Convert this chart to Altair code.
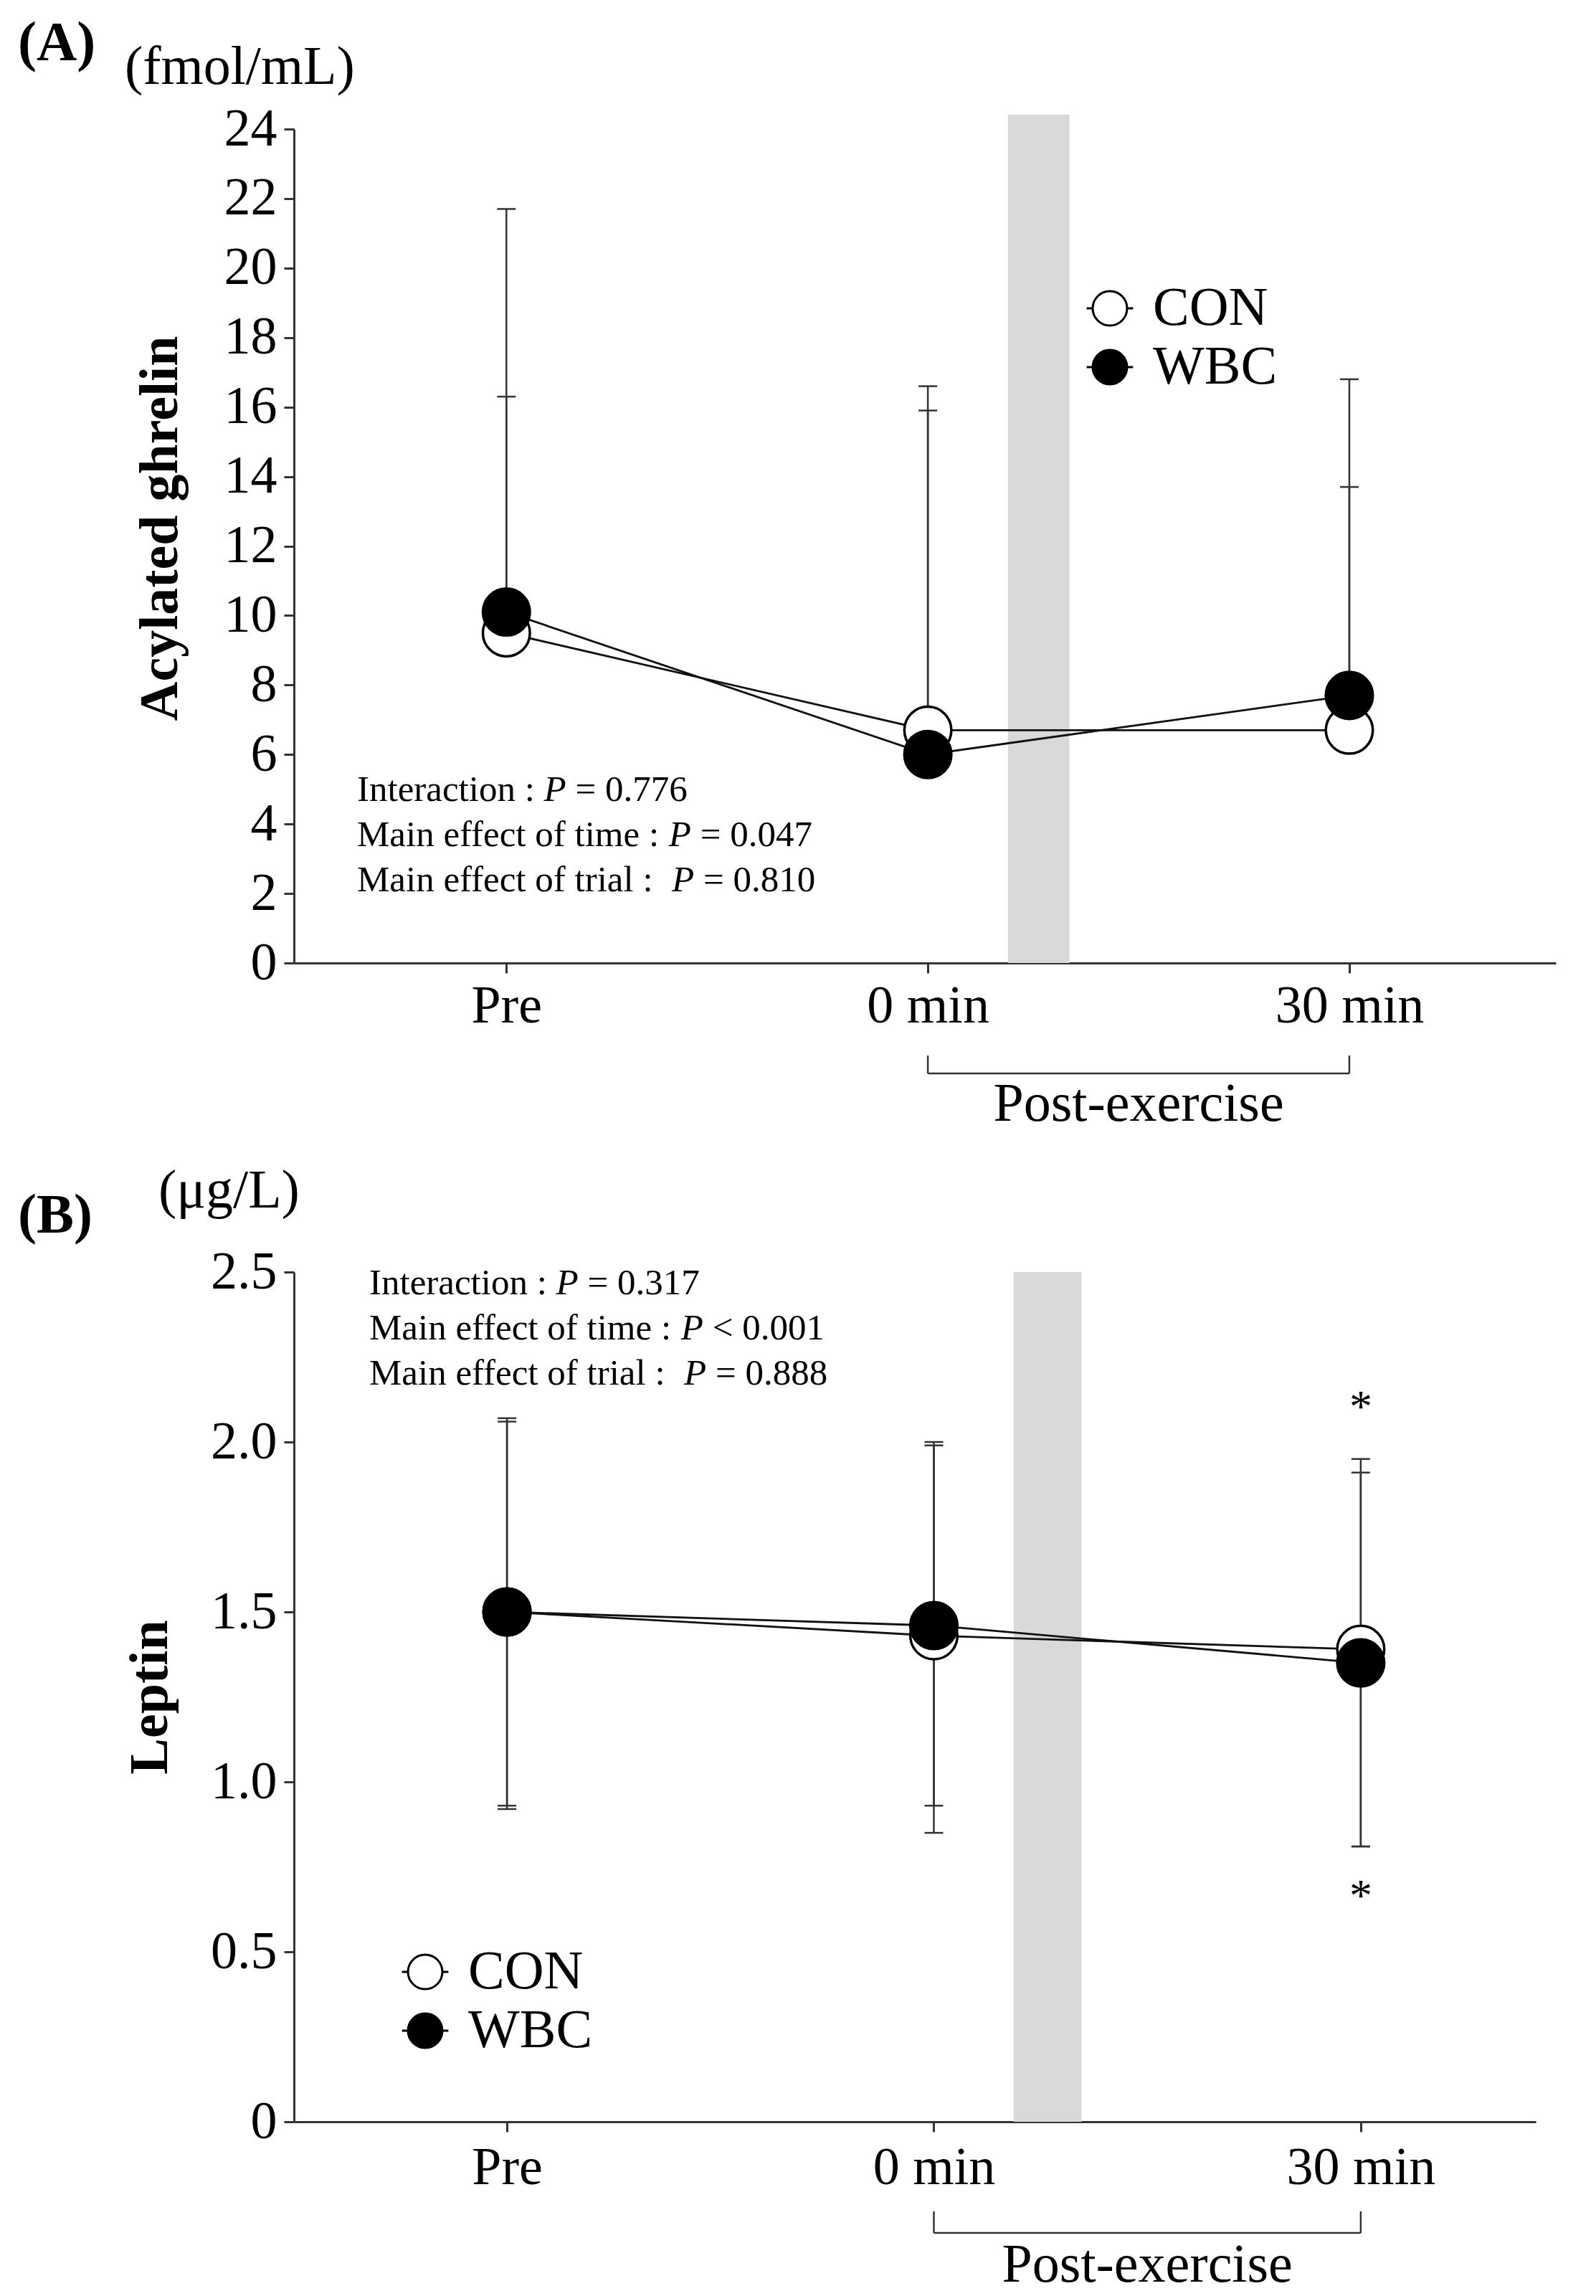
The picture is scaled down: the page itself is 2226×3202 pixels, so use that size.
import altair as alt
import pandas as pd

# ---------------- data ----------------
times = [0, 1, 2]
time_labels = ["Pre", "0 min", "30 min"]
groups = ["CON", "WBC"]

# Panel A: acylated ghrelin (fmol/mL), mean and upper SD end
a_con_mean = [9.5, 6.7, 6.7]
a_wbc_mean = [10.1, 6.0, 7.7]
a_con_upper = [16.3, 16.6, 13.7]
a_wbc_upper = [21.7, 15.9, 16.8]

# Panel B: leptin (ug/L), mean, upper and lower SD ends
b_con_mean = [1.50, 1.43, 1.39]
b_wbc_mean = [1.50, 1.46, 1.35]
b_con_upper = [2.07, 2.00, 1.95]
b_wbc_upper = [2.06, 1.99, 1.91]
b_con_lower = [0.93, 0.93, 0.81]
b_wbc_lower = [0.92, 0.85, 0.81]

# significance stars (panel B, 30 min)
b_star_time = [2, 2]
b_star_value = [2.10, 0.66]

# exercise period (grey band) in time-axis units, and its top in y units
exercise_a = [1.19, 1.336]
exercise_a_top = 24.42
exercise_b = [1.187, 1.346]
exercise_b_top = 2.5

post_exercise_span = [1, 2]

stats_a = [("Interaction : ", "= 0.776"),
           ("Main effect of time : ", "= 0.047"),
           ("Main effect of trial :  ", "= 0.810")]
stats_b = [("Interaction : ", "= 0.317"),
           ("Main effect of time : ", "< 0.001"),
           ("Main effect of trial :  ", "= 0.888")]

# ---------------- style ----------------
FONT = "Liberation Serif"
AX = "#333333"
TIMES_W = {" ": 250, ":": 278, "I": 333, "M": 889, "a": 444, "c": 444, "e": 444,
           "f": 333, "i": 278, "l": 278, "m": 778, "n": 500, "o": 500, "r": 333,
           "t": 278}


def text_width(s, size):
    return sum(TIMES_W.get(ch, 500) for ch in s) / 1000.0 * size


def one():
    return pd.DataFrame({"v": [0]})


def label_mark(text, x, y, size, weight="normal", style="normal", align="left"):
    return alt.Chart(one()).mark_text(
        text=text, font=FONT, fontSize=size, fontWeight=weight, fontStyle=style,
        align=align, baseline="middle", color="black"
    ).encode(x=alt.value(x), y=alt.value(y))


def stats_layers(lines, x0, y0, dy, size):
    out = []
    for i, (pre, post) in enumerate(lines):
        y = y0 + i * dy
        xp = x0 + text_width(pre, size)
        out.append(label_mark(pre.strip(), x0, y, size))
        out.append(label_mark("P", xp, y, size, style="italic"))
        out.append(label_mark(post, xp + (0.611 + 0.25) * size, y, size))
    return out


LEGEND_PATH = "M-1.35,0L-1,0M1,0L1.35,0M-1,0A1,1,0,1,0,1,0A1,1,0,1,0,-1,0Z"


def make_df(con_mean, wbc_mean, con_hi, wbc_hi, con_lo, wbc_lo):
    rows = []
    for g, m, h, l in [("CON", con_mean, con_hi, con_lo), ("WBC", wbc_mean, wbc_hi, wbc_lo)]:
        for t, mv, hv, lv in zip(times, m, h, l):
            rows.append({"time": t, "group": g, "mean": mv, "hi": hv, "lo": lv})
    return pd.DataFrame(rows)


def panel(df, W, H, xdom, ydom, yvals, ytitle, band, band_top, legend_xy,
          lower_caps, bracket_y, bracket_h, bracket_label_y, title_pad, ylabel_expr,
          xlabel_pad, title_y):
    xs = alt.Scale(domain=xdom, nice=False, zero=False)
    ys = alt.Scale(domain=ydom, nice=False, zero=True)
    xaxis = alt.Axis(values=times, title=None, grid=False,
                     labelExpr="['Pre','0 min','30 min'][datum.value]",
                     labelFontSize=74, labelPadding=xlabel_pad, tickSize=14,
                     labelLimit=0)
    yaxis = alt.Axis(values=yvals, title=ytitle, grid=False, labelExpr=ylabel_expr,
                     labelFontSize=74, labelPadding=10, tickSize=14, labelLimit=0,
                     titleFont=FONT, titleFontWeight="bold", titleFontSize=76,
                     titleColor="black", titlePadding=title_pad, titleY=title_y)
    X = alt.X("time:Q", scale=xs, axis=xaxis)

    band_df = pd.DataFrame({"x0": [band[0]], "x1": [band[1]], "y0": [0], "y1": [band_top]})
    band_l = alt.Chart(band_df).mark_rect(color="#d9d9d9").encode(
        x=alt.X("x0:Q", scale=xs, axis=xaxis), x2="x1:Q",
        y=alt.Y("y0:Q", scale=ys, axis=yaxis), y2="y1:Q")

    err = alt.Chart(df).mark_rule(color=AX, strokeWidth=2.5).encode(
        x=X, y=alt.Y("lo:Q", scale=ys, axis=yaxis), y2="hi:Q")
    caps_hi = alt.Chart(df).mark_tick(orient="horizontal", size=26, thickness=2.5,
                                      color=AX, opacity=1).encode(
        x=X, y=alt.Y("hi:Q", scale=ys, axis=yaxis))
    layers = [band_l, err, caps_hi]
    if lower_caps:
        layers.append(alt.Chart(df).mark_tick(orient="horizontal", size=26, thickness=2.5,
                                              color=AX, opacity=1).encode(
            x=X, y=alt.Y("lo:Q", scale=ys, axis=yaxis)))

    line = alt.Chart(df).mark_line(color="#111111", strokeWidth=2.8).encode(
        x=X, y=alt.Y("mean:Q", scale=ys, axis=yaxis), detail="group:N")
    pts = alt.Chart(df).mark_point(shape="circle", filled=True, size=4300,
                                   stroke="black", strokeWidth=3.5, opacity=1).encode(
        x=X, y=alt.Y("mean:Q", scale=ys, axis=yaxis),
        fill=alt.Fill("group:N",
                      scale=alt.Scale(domain=groups, range=["white", "black"]),
                      legend=alt.Legend(orient="none", legendX=legend_xy[0],
                                        legendY=legend_xy[1], title=None,
                                        symbolType=LEGEND_PATH, symbolSize=2300,
                                        symbolStrokeColor="black", symbolStrokeWidth=3,
                                        labelFont=FONT, labelFontSize=76,
                                        labelColor="black", labelOffset=22,
                                        labelLimit=0,
                                        rowPadding=6, symbolOffset=0)))
    layers += [line, pts]

    # post-exercise bracket
    br = pd.DataFrame({"a": [post_exercise_span[0]], "b": [post_exercise_span[1]]})
    layers.append(alt.Chart(br).mark_rule(color=AX, strokeWidth=2.5).encode(
        x=alt.X("a:Q", scale=xs, axis=xaxis), x2="b:Q", y=alt.value(H + bracket_y)))
    brv = pd.DataFrame({"t": post_exercise_span})
    layers.append(alt.Chart(brv).mark_rule(color=AX, strokeWidth=2.5).encode(
        x=alt.X("t:Q", scale=xs, axis=xaxis), y=alt.value(H + bracket_y - bracket_h),
        y2=alt.value(H + bracket_y)))
    mid = pd.DataFrame({"m": [sum(post_exercise_span) / 2]})
    layers.append(alt.Chart(mid).mark_text(text="Post-exercise", font=FONT, fontSize=76,
                                           color="black", baseline="middle").encode(
        x=alt.X("m:Q", scale=xs, axis=xaxis), y=alt.value(H + bracket_label_y)))
    return layers, xs, ys, xaxis, yaxis


# ---------- Panel A ----------
WA, HA = 1760, 1163
dfA = make_df(a_con_mean, a_wbc_mean, a_con_upper, a_wbc_upper, a_con_mean, a_wbc_mean)
layersA, xsA, ysA, xaA, yaA = panel(
    dfA, WA, HA, [-0.504, 2.49], [0, 24], list(range(0, 25, 2)), "Acylated ghrelin",
    exercise_a, exercise_a_top, (1100, 212), False, 154, 25, 197, 50, "datum.label", 10,
    HA / 2 - 25)
layersA += [label_mark("(A)", -385, -119, 78, weight="bold"),
            label_mark("(fmol/mL)", -236, -86, 76)]
layersA += stats_layers(stats_a, 88, 922, 63, 51)
chartA = alt.layer(*layersA).properties(width=WA, height=HA)

# ---------- Panel B ----------
WB, HB = 1732, 1185
dfB = make_df(b_con_mean, b_wbc_mean, b_con_upper, b_wbc_upper, b_con_lower, b_wbc_lower)
layersB, xsB, ysB, xaB, yaB = panel(
    dfB, WB, HB, [-0.499, 2.41], [0, 2.5], [0, 0.5, 1.0, 1.5, 2.0, 2.5], "Leptin",
    exercise_b, exercise_b_top, (145, 938), True, 155, 30, 200, 45,
    "datum.value == 0 ? '0' : format(datum.value, '.1f')", 14, HB / 2)
stars = pd.DataFrame({"time": b_star_time, "v": b_star_value})
layersB.append(alt.Chart(stars).mark_text(text="*", font=FONT, fontSize=64,
                                          color="black", baseline="middle").encode(
    x=alt.X("time:Q", scale=xsB, axis=xaB), y=alt.Y("v:Q", scale=ysB, axis=yaB)))
layersB += [label_mark("(B)", -385, -78, 78, weight="bold"),
            label_mark("(\u03bcg/L)", -189, -113, 76)]
layersB += stats_layers(stats_b, 105, 16, 63, 51)
chartB = alt.layer(*layersB).properties(width=WB, height=HB)

chart = alt.vconcat(chartA, chartB, spacing=431, bounds="flush").resolve_scale(
    fill="independent").resolve_legend(fill="independent").configure(
    padding={"left": 17, "top": 14, "right": 10, "bottom": 10}
).configure_view(stroke=None).configure_axis(
    labelFont=FONT, labelColor="black", domainColor=AX, tickColor=AX,
    domainWidth=3, tickWidth=3
)

chart.save("out.html", embed_options={"renderer": "svg", "actions": False})
